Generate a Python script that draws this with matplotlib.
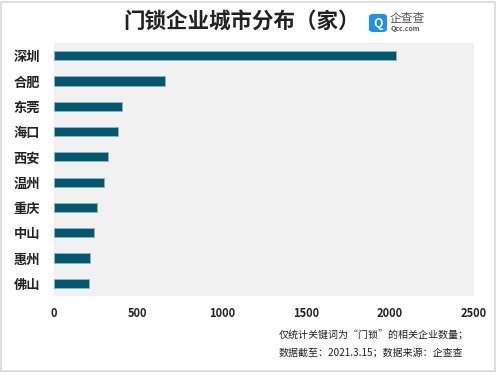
import matplotlib
matplotlib.use("Agg")
import matplotlib.pyplot as plt
from matplotlib.patches import FancyBboxPatch, Rectangle

plt.rcParams['font.family'] = ['Noto Sans CJK SC', 'DejaVu Sans']

cities = ["深圳", "合肥", "东莞", "海口", "西安", "温州", "重庆", "中山", "惠州", "佛山"]
counts = [2035, 661, 402, 381, 321, 298, 254, 236, 212, 210]
xticks = [0, 500, 1000, 1500, 2000, 2500]
title = "门锁企业城市分布（家）"
notes = ["仅统计关键词为“门锁”的相关企业数量；", "数据截至：2021.3.15；数据来源：企查查"]

fig = plt.figure(figsize=(4.96, 3.72), dpi=100)
fig.patch.set_facecolor("white")
W, H = 496, 372
ax = fig.add_axes([54 / W, 1 - 296 / H, 420 / W, 253 / H])
ax.set_facecolor("#f1f1f1")
y = list(range(len(cities)))
ax.barh(y, counts, height=0.36, color="#02586f", edgecolor="#8fb3bf", linewidth=0.6)
ax.set_ylim(len(cities) - 0.5, -0.5)
ax.set_xlim(0, 2500)
ax.set_yticks(y)
ax.set_yticklabels(cities, fontsize=9.5, fontweight="bold", color="#222222")
ax.set_xticks(xticks)
ax.set_xticklabels([str(v) for v in xticks], fontsize=8, fontweight="bold", color="#222222")
ax.tick_params(axis="both", length=0)
ax.tick_params(axis="x", pad=8)
ax.tick_params(axis="y", pad=10)
for s in ax.spines.values():
    s.set_visible(False)

fig.text(242 / W, 1 - 22 / H, title, ha="center", va="center", fontsize=15.5, fontweight="bold", color="#222222")

# logo
logo = FancyBboxPatch((369 / W, 1 - 32 / H), 18 / W, 18 / H, boxstyle="round,pad=0,rounding_size=0.008",
                      transform=fig.transFigure, facecolor="#1f8ff0", edgecolor="none")
fig.patches.append(logo)
fig.text(378 / W, 1 - 23.5 / H, "Q", ha="center", va="center", fontsize=9, fontweight="bold", color="white")
fig.text(390 / W, 1 - 18.5 / H, "企查查", ha="left", va="center", fontsize=8.5, color="#555555")
fig.text(391 / W, 1 - 29 / H, "Qcc.com", ha="left", va="center", fontsize=5, fontweight="bold", color="#555555")

fig.text(279 / W, 1 - 335 / H, notes[0], ha="left", va="center", fontsize=7.2, color="#222222")
fig.text(279 / W, 1 - 353 / H, notes[1], ha="left", va="center", fontsize=7.2, color="#222222")

border = Rectangle((0.5 / W, 1.5 / H), (W - 2) / W, (H - 3) / H, transform=fig.transFigure,
                   fill=False, edgecolor="#d8d8d8", linewidth=1.2)
fig.patches.append(border)

fig.savefig("out.png", dpi=100)
